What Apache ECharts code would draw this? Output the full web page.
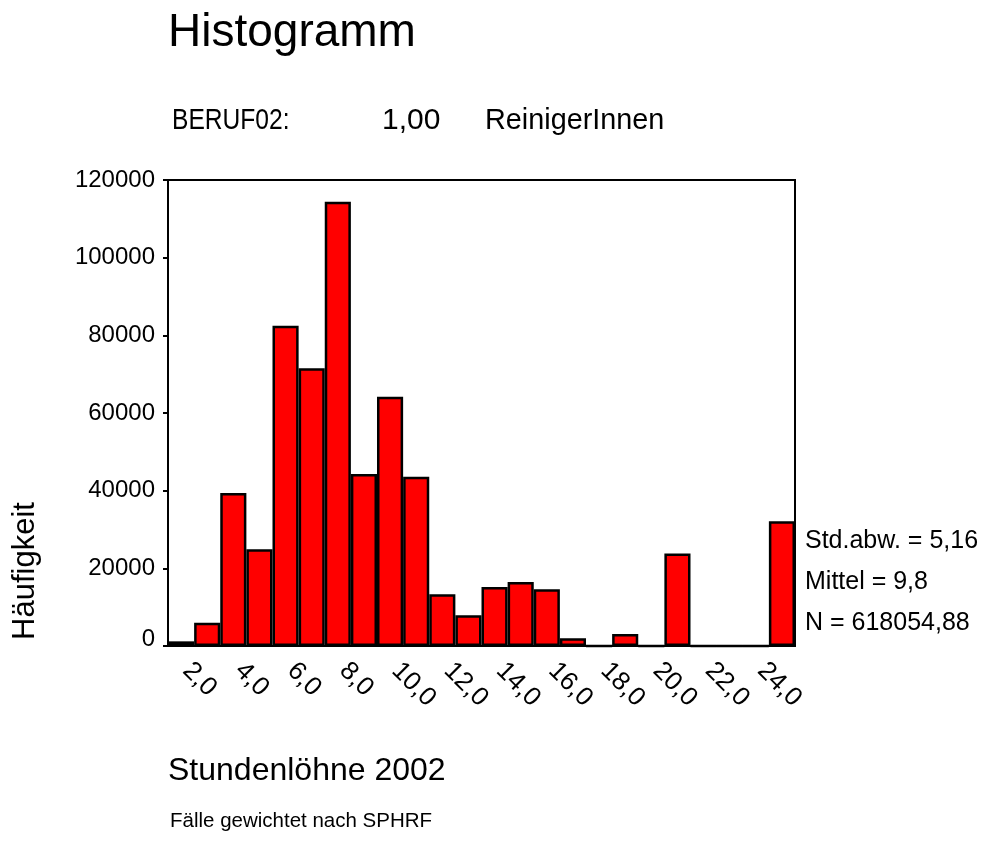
<!DOCTYPE html>
<html>
<head>
<meta charset="utf-8">
<title>Histogramm</title>
<script src="https://cdn.jsdelivr.net/npm/echarts@6/dist/echarts.min.js"></script>
<style>
  html, body { margin: 0; padding: 0; background: #fff; }
  #main { width: 986px; height: 849px; }
</style>
</head>
<body>
<div id="main"></div>
<script>
// Klassen (Mitte der Balken, Breite 1,0)
var klassen = ['2,0', '3,0', '4,0', '5,0', '6,0', '7,0', '8,0', '9,0', '10,0', '11,0', '12,0', '13,0',
    '14,0', '15,0', '16,0', '17,0', '18,0', '19,0', '20,0', '21,0', '22,0', '23,0', '24,0', '25,0'];
// Häufigkeiten (gewichtet)
var haeufigkeit = [1200, 6000, 39400, 24900, 82500, 71500, 114400, 44300, 64200, 43600, 13300, 7900,
    15200, 16500, 14600, 2000, 0, 3100, 0, 23800, 0, 0, 0, 32100];
var yTicks = [0, 20000, 40000, 60000, 80000, 100000, 120000];
var statistik = ['Std.abw. = 5,16', 'Mittel = 9,8', 'N = 618054,88'];

var font = '"Liberation Sans", Arial, sans-serif';
var chart = echarts.init(document.getElementById('main'));

var option = {
    backgroundColor: '#fff',
    animation: false,
    grid: {
        left: 168, right: 191, top: 180, bottom: 203,
        show: true, borderColor: '#000', borderWidth: 2
    },
    xAxis: {
        type: 'category',
        data: klassen,
        boundaryGap: true,
        axisLine: { lineStyle: { color: '#000', width: 2 } },
        axisTick: { interval: 1, alignWithLabel: true, length: 5, lineStyle: { color: '#000', width: 2 } },
        axisLabel: {
            interval: 1, rotate: -45, margin: 15, padding: [0, 0, 0, 8],
            color: '#000', fontSize: 26, fontFamily: font
        },
        splitLine: { show: false }
    },
    yAxis: {
        type: 'value',
        min: yTicks[0],
        max: yTicks[yTicks.length - 1],
        interval: 20000,
        axisLine: { show: true, lineStyle: { color: '#000', width: 2 } },
        axisTick: { show: true, length: 5, lineStyle: { color: '#000', width: 2 } },
        axisLabel: {
            margin: 13, color: '#000', fontSize: 24, fontFamily: font,
            // die 0 steht bei SPSS etwas höher
            formatter: function (v) { return v === 0 ? '{z|0}' : String(v); },
            rich: { z: { fontSize: 24, fontFamily: font, color: '#000', padding: [0, 0, 14, 0] } }
        },
        splitLine: { show: false }
    },
    series: [{
        type: 'bar',
        data: haeufigkeit,
        barCategoryGap: 0,
        itemStyle: { color: '#ff0000', borderColor: '#000', borderWidth: 2.5 }
    }],
    graphic: [
        { type: 'text', left: 168, top: 10, style: { text: 'Histogramm', font: '46px ' + font, fill: '#000' } },
        { type: 'text', x: 172, y: 121, scaleX: 0.82, style: { text: 'BERUF02:', font: '30px ' + font, fill: '#000', textVerticalAlign: 'middle' } },
        { type: 'text', x: 382, y: 121, style: { text: '1,00', font: '30px ' + font, fill: '#000', textVerticalAlign: 'middle' } },
        { type: 'text', x: 485, y: 121, scaleX: 0.96, style: { text: 'ReinigerInnen', font: '30px ' + font, fill: '#000', textVerticalAlign: 'middle' } },
        // Achsentitel
        {
            type: 'text', x: 25, y: 571, rotation: Math.PI / 2,
            style: { text: 'Häufigkeit', font: '31px ' + font, fill: '#000', textAlign: 'center', textVerticalAlign: 'middle' }
        },
        { type: 'text', x: 168, y: 771, style: { text: 'Stundenlöhne 2002', font: '32px ' + font, fill: '#000', textVerticalAlign: 'middle' } },
        { type: 'text', x: 170, y: 821, style: { text: 'Fälle gewichtet nach SPHRF', font: '20.5px ' + font, fill: '#000', textVerticalAlign: 'middle' } },
        // Kennwerte rechts
        { type: 'text', x: 805, y: 541, style: { text: statistik[0], font: '25px ' + font, fill: '#000', textVerticalAlign: 'middle' } },
        { type: 'text', x: 805, y: 582, style: { text: statistik[1], font: '25px ' + font, fill: '#000', textVerticalAlign: 'middle' } },
        { type: 'text', x: 805, y: 623, style: { text: statistik[2], font: '25px ' + font, fill: '#000', textVerticalAlign: 'middle' } }
    ]
};

chart.setOption(option);
</script>
</body>
</html>
